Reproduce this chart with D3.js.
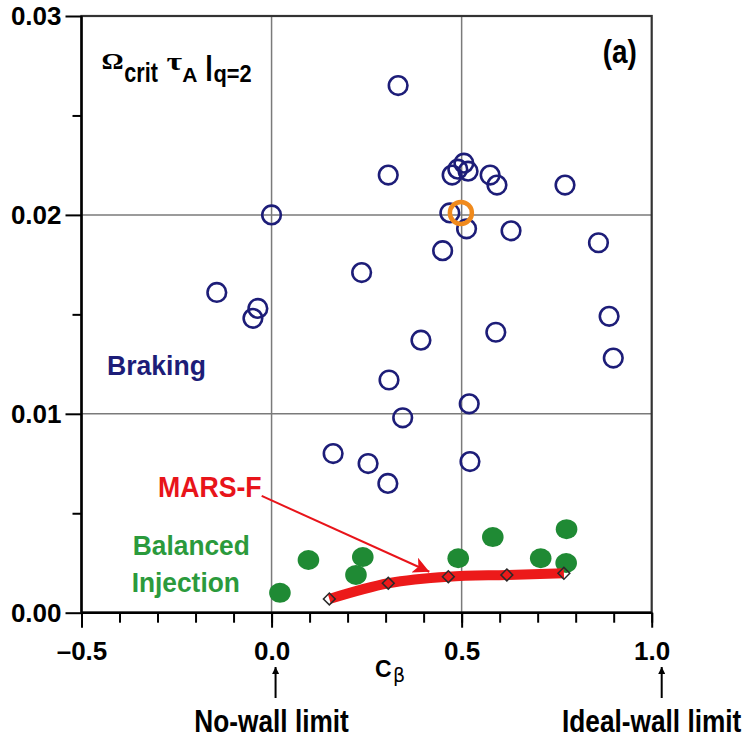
<html>
<head>
<script src="https://d3js.org/d3.v7.min.js"></script>
<style>
body { margin: 0; background: #fff; }
text { font-family: "Liberation Sans", Arial, Helvetica, sans-serif; font-weight: bold; }
.axis text { font-size: 26px; fill: #000; }
.axis line { stroke: #000; stroke-width: 2; }
.grid { stroke: #7a7a7a; stroke-width: 1.5; }
</style>
</head>
<body>
<div id="plot"></div>
<script>
// Braking shots (open blue circles): C_beta vs Omega_crit tau_A
var brakingX = [0.333, 0.307, 0.475, 0.490, 0.506, 0.517, 0.575, 0.593, 0.772, 0.000,
                0.469, 0.513, 0.630, 0.860, 0.450, 0.237, -0.144, -0.036, -0.049, 0.888,
                0.899, 0.590, 0.393, 0.309, 0.520, 0.345, 0.522, 0.162, 0.254, 0.306];
var brakingY = [0.0265, 0.0220, 0.0220, 0.0223, 0.0226, 0.0222, 0.0220, 0.0215, 0.0215, 0.0200,
                0.0201, 0.0193, 0.0192, 0.0186, 0.0182, 0.0171, 0.0161, 0.0153, 0.0148, 0.0149,
                0.0128, 0.0141, 0.0137, 0.0117, 0.0105, 0.0098, 0.0076, 0.0080, 0.0075, 0.0065];

// highlighted shot (orange ring)
var markedX = [0.498];
var markedY = [0.0201];

// Balanced injection shots (filled green)
var balancedX = [0.022, 0.097, 0.240, 0.222, 0.491, 0.582, 0.708, 0.776, 0.775];
var balancedY = [0.0010, 0.00265, 0.0028, 0.0019, 0.00274, 0.0038, 0.00274, 0.0042, 0.0025];

// MARS-F prediction
var marsX = [0.152, 0.307, 0.465, 0.619, 0.769];
var marsY = [0.00069, 0.00148, 0.00181, 0.0019, 0.00198];

var xMajor = [-0.5, 0.0, 0.5, 1.0];
var xMajorLabels = ["\u20130.5", "0.0", "0.5", "1.0"];
var xMinor = d3.range(-5, 11).map(function (i) { return i / 10; });
var yMajor = [0, 0.01, 0.02, 0.03];
var yMajorLabels = ["0.00", "0.01", "0.02", "0.03"];
var yMinor = [0.005, 0.015, 0.025];
var xGrid = [0.0, 0.5];
var yGrid = [0.01, 0.02];

var width = 745, height = 740;
var plotLeft = 81.5, plotRight = 651.7, plotTop = 16, plotBottom = 612.7;

var svg = d3.select("#plot").append("svg")
  .attr("width", width).attr("height", height);

var xScale = d3.scaleLinear().domain([-0.5, 1.0]).range([plotLeft, plotRight]);
var yScale = d3.scaleLinear().domain([0, 0.03]).range([plotBottom, plotTop]);

var defs = svg.append("defs");
defs.append("marker").attr("id", "redhead")
  .attr("viewBox", "0 0 10 10").attr("refX", 10).attr("refY", 5)
  .attr("markerUnits", "userSpaceOnUse")
  .attr("markerWidth", 20).attr("markerHeight", 16).attr("orient", "auto")
  .append("path").attr("d", "M0,0 L10,5 L0,10 L2.5,5 Z").attr("fill", "#e8141a");
defs.append("marker").attr("id", "blackhead")
  .attr("viewBox", "0 0 10 10").attr("refX", 10).attr("refY", 5)
  .attr("markerUnits", "userSpaceOnUse")
  .attr("markerWidth", 10).attr("markerHeight", 7).attr("orient", "auto")
  .append("path").attr("d", "M0,0 L10,5 L0,10 Z").attr("fill", "#000");

// grid
svg.selectAll("line.gx").data(xGrid).enter().append("line")
  .attr("class", "grid")
  .attr("x1", xScale).attr("x2", xScale)
  .attr("y1", plotTop).attr("y2", plotBottom);
svg.selectAll("line.gy").data(yGrid).enter().append("line")
  .attr("class", "grid")
  .attr("x1", plotLeft).attr("x2", plotRight)
  .attr("y1", yScale).attr("y2", yScale);

// frame
svg.append("rect").attr("x", plotLeft).attr("y", plotTop)
  .attr("width", plotRight - plotLeft).attr("height", plotBottom - plotTop)
  .attr("fill", "none").attr("stroke", "#333").attr("stroke-width", 2.2);

// axes: minor ticks then labelled major ticks
svg.append("g").attr("class", "axis").attr("transform", "translate(0," + plotBottom + ")")
  .call(d3.axisBottom(xScale).tickValues(xMinor).tickSize(10).tickFormat(""))
  .call(function (g) { g.select(".domain").remove(); });
svg.append("g").attr("class", "axis").attr("transform", "translate(0," + plotBottom + ")")
  .call(d3.axisBottom(xScale).tickValues(xMajor).tickSize(15).tickPadding(14)
    .tickFormat(function (d, i) { return xMajorLabels[i]; }))
  .call(function (g) { g.select(".domain").remove(); });
svg.append("g").attr("class", "axis").attr("transform", "translate(" + plotLeft + ",0)")
  .call(d3.axisLeft(yScale).tickValues(yMinor).tickSize(9).tickFormat(""))
  .call(function (g) { g.select(".domain").remove(); });
svg.append("g").attr("class", "axis").attr("transform", "translate(" + plotLeft + ",0)")
  .call(d3.axisLeft(yScale).tickValues(yMajor).tickSize(16).tickPadding(4)
    .tickFormat(function (d, i) { return yMajorLabels[i]; }))
  .call(function (g) { g.select(".domain").remove(); });
svg.append("line").attr("x1", plotLeft).attr("x2", plotRight).attr("y1", plotBottom).attr("y2", plotBottom)
  .attr("stroke", "#000").attr("stroke-width", 2.4);
svg.append("line").attr("x1", plotLeft).attr("x2", plotLeft).attr("y1", plotTop).attr("y2", plotBottom)
  .attr("stroke", "#000").attr("stroke-width", 2.4);

// helper for (optionally squeezed) labels
function label(x, y, txt, size, color, sx, anchor) {
  return svg.append("text")
    .attr("transform", "translate(" + x + "," + y + ") scale(" + (sx || 1) + ",1)")
    .attr("font-size", size).attr("fill", color)
    .attr("text-anchor", anchor || "start")
    .text(txt);
}

// braking points
svg.selectAll("circle.braking").data(brakingX).enter().append("circle")
  .attr("class", "braking")
  .attr("cx", function (d) { return xScale(d); })
  .attr("cy", function (d, i) { return yScale(brakingY[i]); })
  .attr("r", 9.3)
  .attr("fill", "none").attr("stroke", "#1d1d78").attr("stroke-width", 2.6);

svg.selectAll("circle.marked").data(markedX).enter().append("circle")
  .attr("class", "marked")
  .attr("cx", function (d) { return xScale(d); })
  .attr("cy", function (d, i) { return yScale(markedY[i]); })
  .attr("r", 11)
  .attr("fill", "none").attr("stroke", "#f08a1c").attr("stroke-width", 4.5);

// balanced injection
svg.selectAll("ellipse.balanced").data(balancedX).enter().append("ellipse")
  .attr("class", "balanced")
  .attr("cx", function (d) { return xScale(d); })
  .attr("cy", function (d, i) { return yScale(balancedY[i]); })
  .attr("rx", 10.8).attr("ry", 10)
  .attr("fill", "#1f8a34");

// MARS-F curve
var marsLine = d3.line()
  .x(function (d) { return xScale(d); })
  .y(function (d, i) { return yScale(marsY[i]); })
  .curve(d3.curveMonotoneX);
svg.append("path").datum(marsX)
  .attr("d", marsLine)
  .attr("fill", "none").attr("stroke", "#ec1a1a").attr("stroke-width", 10);
svg.selectAll("path.diamond").data(marsX).enter().append("path")
  .attr("class", "diamond")
  .attr("d", d3.symbol(d3.symbolSquare, 70))
  .attr("transform", function (d, i) {
    return "translate(" + xScale(d) + "," + yScale(marsY[i]) + ") rotate(45)";
  })
  .attr("fill", "none").attr("stroke", "#2a2a2a").attr("stroke-width", 1.5);

// annotations
label(xScale(-0.433), yScale(0.01195), "Braking", 28, "#1d1d78", 0.95);
label(xScale(-0.299), yScale(0.00582), "MARS-F", 30, "#e8141a", 0.89);
label(xScale(-0.365), yScale(0.0029), "Balanced", 28, "#2b9a3c", 0.94);
label(xScale(-0.368), yScale(0.00106), "Injection", 28, "#2b9a3c", 0.94);
label(xScale(0.961), yScale(0.02764), "(a)", 34, "#000", 0.82, "end");

svg.append("line")
  .attr("x1", xScale(-0.026)).attr("y1", yScale(0.00587))
  .attr("x2", xScale(0.415)).attr("y2", yScale(0.00206))
  .attr("stroke", "#e8141a").attr("stroke-width", 2)
  .attr("marker-end", "url(#redhead)");

// title  Omega_crit tau_A |_{q=2}
var serif = "'Liberation Serif', 'Times New Roman', serif";
label(101.5, 68.5, "\u03A9", 23, "#000", 1.2).style("font-family", serif);
label(124.3, 81.7, "crit", 27, "#000", 0.8);
label(166.5, 70, "\u03C4", 26, "#000", 1.3).style("font-family", serif);
label(182.3, 81.7, "A", 21, "#000", 1);
label(205, 74.5, "|", 27, "#000", 1.06);
label(213.5, 81.7, "q=2", 23, "#000", 0.95);

// x-axis title C_beta
label(375, 677, "C", 23, "#000", 1);
label(393, 682, "\u03B2", 19, "#000", 1)
  .style("font-family", "'DejaVu Sans', sans-serif").style("font-weight", "normal");

// limit markers below the axis
var limits = [0.0, 1.0];
var limitNames = ["No-wall limit", "Ideal-wall limit"];
svg.selectAll("line.limit").data(limits).enter().append("line")
  .attr("class", "limit")
  .attr("x1", function (d, i) { return xScale(d) + (i ? 10 : 4); })
  .attr("x2", function (d, i) { return xScale(d) + (i ? 10 : 4); })
  .attr("y1", 698).attr("y2", 667)
  .attr("stroke", "#000").attr("stroke-width", 2)
  .attr("marker-end", "url(#blackhead)");
limits.forEach(function (d, i) {
  label(xScale(d), 732, limitNames[i], 32, "#000", 0.82, "middle");
});
</script>
</body>
</html>
